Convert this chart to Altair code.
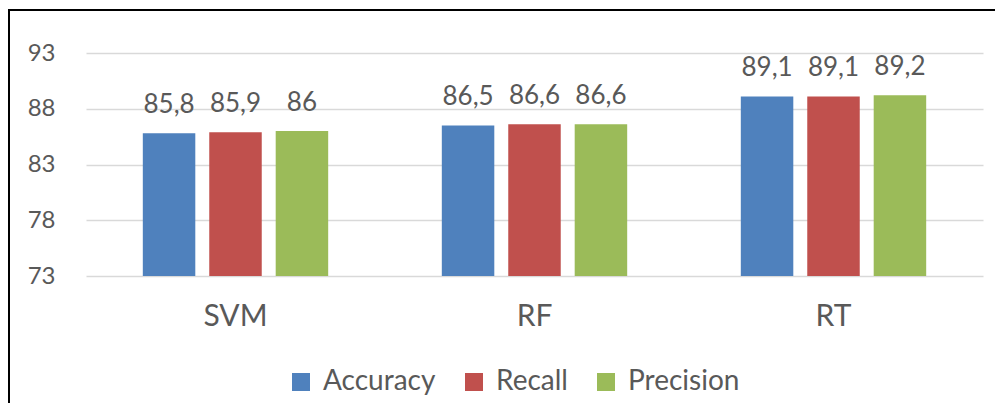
import altair as alt
import pandas as pd

models = ["SVM", "RF", "RT"]
metrics = ["Accuracy", "Recall", "Precision"]
accuracy = [85.8, 86.5, 89.1]
recall = [85.9, 86.6, 89.1]
precision = [86.0, 86.6, 89.2]
y_ticks = [73, 78, 83, 88, 93]
colors = ["#4F81BD", "#C0504D", "#9BBB59"]

rows = []
for i, m in enumerate(models):
    for met, vals in zip(metrics, [accuracy, recall, precision]):
        rows.append({"model": m, "metric": met, "value": vals[i]})
df = pd.DataFrame(rows)

FONT = "Lato"
GRAY = "#595959"

x_enc = alt.X("model:N", sort=models, title=None,
              scale=alt.Scale(paddingInner=0.38, paddingOuter=0.19),
              axis=alt.Axis(labelAngle=0, labelFontSize=30, labelColor=GRAY, labelFont=FONT,
                            domain=False, ticks=False, grid=False, labelPadding=25))
xo_enc = alt.XOffset("metric:N", sort=metrics, scale=alt.Scale(paddingInner=0.21, paddingOuter=0))
y_enc = alt.Y("value:Q", title=None,
              scale=alt.Scale(domain=[73, 93], zero=False, nice=False),
              axis=alt.Axis(values=y_ticks, labelFontSize=24, labelColor=GRAY, labelFont=FONT,
                            domain=False, ticks=False, labelPadding=31, gridColor="#D9D9D9",
                            gridWidth=1.3))

base = alt.Chart(df)

bars = base.mark_bar().encode(
    x=x_enc,
    xOffset=xo_enc,
    y=y_enc,
    y2=alt.datum(73),
    color=alt.Color("metric:N", sort=metrics,
                    scale=alt.Scale(domain=metrics, range=colors),
                    legend=alt.Legend(orient="none", legendX=201, legendY=315, direction="horizontal",
                                      title=None, symbolType="square", symbolSize=324,
                                      symbolStrokeWidth=0, labelFontSize=28, labelColor=GRAY,
                                      labelFont=FONT, columnPadding=24, labelOffset=8)),
)

labels = base.transform_calculate(
    lab="replace(toString(datum.value), '.', ',')"
).mark_text(fontSize=26, color=GRAY, font=FONT, baseline="alphabetic", dy=-20).encode(
    x=alt.X("model:N", sort=models),
    xOffset=alt.XOffset("metric:N", sort=metrics),
    y=alt.Y("value:Q"),
    text="lab:N",
)

one = pd.DataFrame({"k": [0]})
border_left = alt.Chart(one).mark_rule(color="black", strokeWidth=2).encode(
    x=alt.value(-77), y=alt.value(-44), y2=alt.value(380)
)
border_top = alt.Chart(one).mark_rule(color="black", strokeWidth=2).encode(
    x=alt.value(-78), x2=alt.value(940), y=alt.value(-43)
)

chart = alt.layer(bars, labels, border_left, border_top).properties(
    width=897, height=223,
    padding={"left": 78, "top": 45, "right": 12, "bottom": 127},
    autosize=alt.AutoSizeParams(type="none"),
).configure_view(stroke=None)

chart.save("out.html", embed_options={"renderer": "svg", "actions": False})
